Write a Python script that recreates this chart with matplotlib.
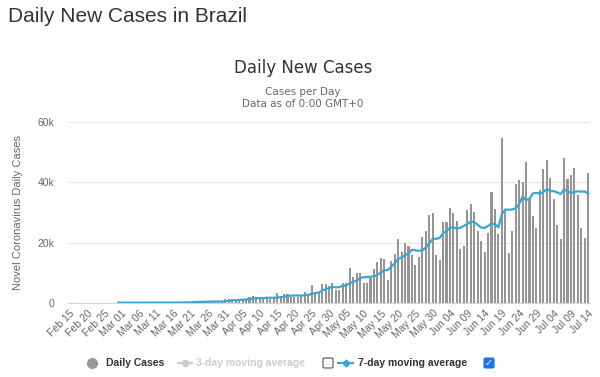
import numpy as np
import pandas as pd
import matplotlib
matplotlib.use("Agg")
import matplotlib.pyplot as plt
from matplotlib.lines import Line2D
from matplotlib.patches import FancyBboxPatch

plt.rcParams['font.family'] = ['Liberation Sans', 'DejaVu Sans']

# daily new cases, Feb 15 .. Jul 14
feb = [0, 0, 0, 0, 0, 0, 0, 0, 0, 0, 0, 1, 0, 0, 1]
mar = [0, 0, 0, 1, 5, 5, 6, 6, 0, 6, 9, 8, 21, 77, 0, 79, 57, 137, 193, 283,
       224, 418, 345, 310, 232, 482, 502, 487, 352, 323, 1138]
apr = [1119, 1208, 1012, 1304, 770, 1031, 1900, 2200, 1930, 1780, 1090, 1440,
       1260, 1830, 3100, 2100, 3000, 2900, 2000, 1900, 1900, 2700, 3500, 3000,
       5800, 3400, 3500, 6100, 6200, 5700]
may = [6400, 4300, 4200, 6600, 6700, 11400, 8700, 9800, 9800, 6500, 6500, 8100,
       11200, 13400, 14800, 14600, 7600, 14000, 16300, 21100, 17000, 20000,
       18900, 15900, 12600, 15300, 22000, 23900, 29200, 29800, 16000]
jun = [14200, 26900, 26900, 31500, 29800, 27200, 18000, 18700, 30900, 32800,
       30100, 23900, 20600, 16900, 23300, 36800, 31200, 22800, 54800, 31100,
       16500, 23900, 39600, 40800, 40200, 46700, 34500, 28900, 25000, 37600]
jul = [44500, 47600, 41600, 34600, 25900, 21100, 48100, 41000, 42500, 44900,
       35900, 25000, 21500, 43100]

daily = feb + mar + apr + may + jun + jul
dates = pd.date_range("2020-02-15", periods=len(daily), freq="D")
labels = [d.strftime("%b %d") for d in dates]

s = pd.Series(daily, dtype=float)
avg7 = s.rolling(7, min_periods=1).mean()
avg7[:14] = np.nan  # line starts at end of Feb

fig = plt.figure(figsize=(6, 3.77), dpi=100)
W, H = 600, 377
ax = fig.add_axes([68 / W, (H - 302.7) / H, (590 - 68) / W, (302.7 - 122.3) / H])

x = np.arange(len(daily))
ax.bar(x, daily, width=0.6, color='#959595', zorder=2)
ax.plot(x, avg7, color='#3aa6d3', lw=1.6, zorder=3)

ax.set_xlim(-0.5, len(daily) - 0.5)
ax.set_ylim(0, 60000)
ax.set_yticks([0, 20000, 40000, 60000])
ax.set_yticklabels(['0', '20k', '40k', '60k'], color='#666666', fontsize=7.5)
ax.set_xticks(x[::5])
ax.set_xticklabels(labels[::5], rotation=45, ha='right', rotation_mode='anchor',
                   color='#666666', fontsize=7.5)
ax.tick_params(axis='y', length=0, pad=10)
ax.tick_params(axis='x', length=0, pad=4)
ax.grid(axis='y', color='#e6e6e6', lw=0.8, zorder=0)
for sp in ['left', 'right', 'top']:
    ax.spines[sp].set_visible(False)
ax.spines['bottom'].set_color('#ccd6eb')
ax.set_ylabel('Novel Coronavirus Daily Cases', color='#666666', fontsize=8,
              labelpad=10)

fig.text(8 / W, 1 - 16 / H, 'Daily New Cases in Brazil', fontsize=15,
         color='#333333', va='center', ha='left')
fig.text(303 / W, 1 - 68 / H, 'Daily New Cases', fontsize=12,
         color='#333333', va='center', ha='center', family='DejaVu Sans')
fig.text(303 / W, 1 - 92 / H, 'Cases per Day', fontsize=7.5,
         color='#666666', va='center', ha='center', family='DejaVu Sans')
fig.text(303 / W, 1 - 104 / H, 'Data as of 0:00 GMT+0', fontsize=7.5,
         color='#666666', va='center', ha='center', family='DejaVu Sans')

# legend row
ly = 1 - 363 / H
fig.add_artist(Line2D([92 / W], [ly], marker='o', ms=7, color='#999999',
                      transform=fig.transFigure))
fig.text(106 / W, ly, 'Daily Cases', fontsize=7.5, fontweight='bold',
         color='#333333', va='center')
fig.add_artist(Line2D([178 / W, 192 / W], [ly, ly], color='#cccccc', lw=1.5,
                      transform=fig.transFigure))
fig.add_artist(Line2D([185 / W], [ly], marker='o', ms=4.5, color='#cccccc',
                      transform=fig.transFigure))
fig.text(196 / W, ly, '3-day moving average', fontsize=7.5, fontweight='bold',
         color='#cccccc', va='center')
fig.add_artist(FancyBboxPatch((323 / W, ly - 5 / H), 10 / W, 10 / H,
                              boxstyle='round,pad=0,rounding_size=0.003',
                              fc='white', ec='#555555', lw=0.8,
                              transform=fig.transFigure))
fig.add_artist(Line2D([338 / W, 353 / W], [ly, ly], color='#3aa6d3', lw=1.5,
                      transform=fig.transFigure))
fig.add_artist(Line2D([345.5 / W], [ly], marker='D', ms=3.5, color='#3aa6d3',
                      transform=fig.transFigure))
fig.text(358 / W, ly, '7-day moving average', fontsize=7.5, fontweight='bold',
         color='#333333', va='center')
fig.add_artist(FancyBboxPatch((484 / W, ly - 5 / H), 10 / W, 10 / H,
                              boxstyle='round,pad=0,rounding_size=0.003',
                              fc='#1a73e8', ec='#1a73e8', lw=0.8,
                              transform=fig.transFigure))
fig.text(489 / W, ly, '\u2713', fontsize=7, color='white', ha='center',
         va='center', fontweight='bold', family='DejaVu Sans')

fig.savefig('out.png', dpi=100)
